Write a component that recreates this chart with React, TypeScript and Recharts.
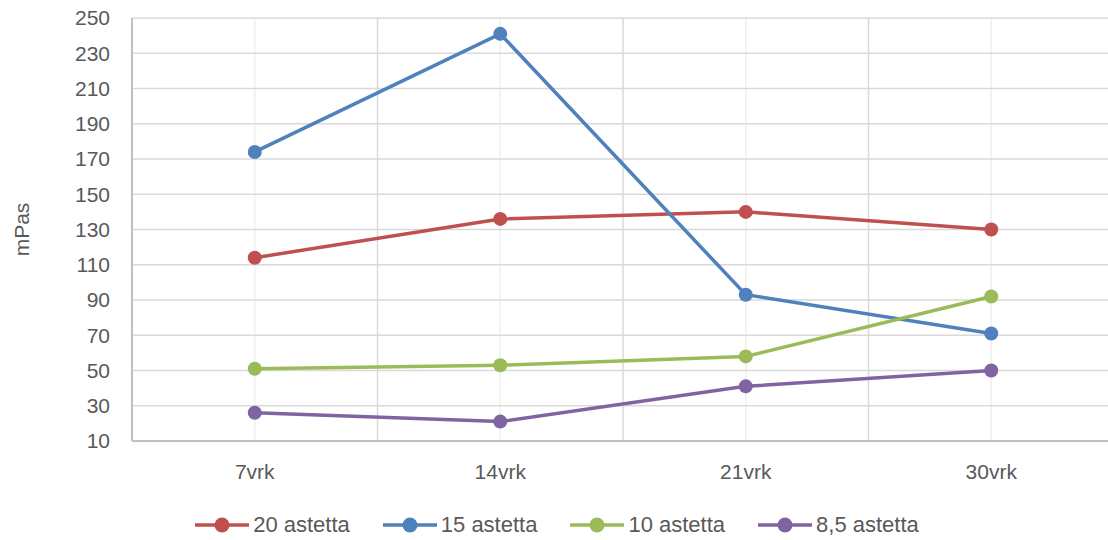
import React from 'react';
import { LineChart, Line, XAxis, YAxis, CartesianGrid, Legend } from 'recharts';

const categories = ['7vrk', '14vrk', '21vrk', '30vrk'];
const values20 = [114, 136, 140, 130];
const values15 = [174, 241, 93, 71];
const values10 = [51, 53, 58, 92];
const values85 = [26, 21, 41, 50];
const yTicks = [10, 30, 50, 70, 90, 110, 130, 150, 170, 190, 210, 230, 250];

const seriesList = [
  { key: 's20', name: '20 astetta', color: '#C0504D', values: values20 },
  { key: 's15', name: '15 astetta', color: '#4F81BD', values: values15 },
  { key: 's10', name: '10 astetta', color: '#9BBB59', values: values10 },
  { key: 's85', name: '8,5 astetta', color: '#8064A2', values: values85 },
];

const data = categories.map((cat, i) => {
  const row: Record<string, string | number> = { name: cat };
  seriesList.forEach((s) => {
    row[s.key] = s.values[i];
  });
  return row;
});

const textColor = '#595959';
const tickFontSize = 21;
const legendFontSize = 22;

// vertical lines between the categories (Excel-style band edges)
const bandEdges = (props: any) => {
  const { offset } = props;
  const n = categories.length;
  return categories.slice(1).map((_, i) => offset.left + ((i + 1) * offset.width) / n);
};

const renderLegend = () => (
  <div style={{ display: 'flex', justifyContent: 'center', alignItems: 'center', gap: 33, height: 30 }}>
    {seriesList.map((s) => (
      <div key={s.key} style={{ display: 'flex', alignItems: 'center' }}>
        <svg width={54} height={18}>
          <line x1={0} y1={9} x2={54} y2={9} stroke={s.color} strokeWidth={3.5} />
          <circle cx={27} cy={9} r={7.5} fill={s.color} />
        </svg>
        <span style={{ marginLeft: 4, fontSize: legendFontSize, color: textColor }}>{s.name}</span>
      </div>
    ))}
  </div>
);

export default function App() {
  return (
    <div style={{ position: 'absolute', left: 0, top: 0, fontFamily: '"Liberation Sans", Arial, sans-serif' }}>
      <LineChart width={1108} height={540} data={data} margin={{ top: 18, right: -6, left: 0, bottom: 0 }}>
        <CartesianGrid horizontal={false} stroke="#efefef" strokeWidth={1.5} />
        <CartesianGrid stroke="#d9d9d9" strokeWidth={1.5} verticalCoordinatesGenerator={bandEdges} />
        <XAxis
          dataKey="name"
          scale="band"
          height={69}
          tickLine={false}
          tickSize={0}
          tickMargin={23}
          axisLine={{ stroke: '#bfbfbf', strokeWidth: 2 }}
          tick={{ fill: textColor, fontSize: tickFontSize }}
        />
        <YAxis
          width={132}
          domain={[10, 250]}
          ticks={yTicks}
          interval={0}
          tickLine={false}
          tickSize={0}
          tickMargin={22}
          axisLine={{ stroke: '#bfbfbf', strokeWidth: 2 }}
          tick={{ fill: textColor, fontSize: tickFontSize }}
          label={{
            value: 'mPas',
            angle: -90,
            position: 'insideLeft',
            offset: 22,
            style: { textAnchor: 'middle', fill: textColor, fontSize: tickFontSize },
          }}
        />
        <Legend verticalAlign="bottom" height={30} content={renderLegend} />
        {seriesList.map((s) => (
          <Line
            key={s.key}
            type="linear"
            dataKey={s.key}
            name={s.name}
            stroke={s.color}
            strokeWidth={3.5}
            dot={{ r: 7, fill: s.color, stroke: s.color, strokeWidth: 0 }}
            activeDot={false}
            isAnimationActive={false}
          />
        ))}
      </LineChart>
    </div>
  );
}
